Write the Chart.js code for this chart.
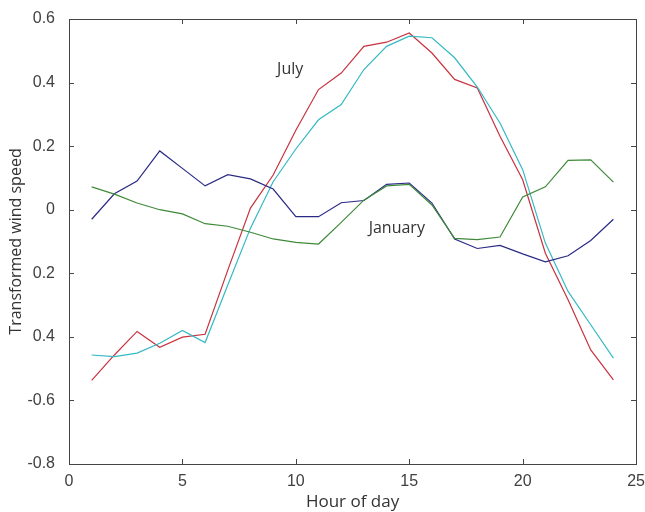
<!DOCTYPE html>
<html>
<head>
<meta charset="utf-8">
<script src="https://cdn.jsdelivr.net/npm/chart.js@4/dist/chart.umd.min.js"></script>
<style>
  html, body { margin: 0; padding: 0; background: #fff; }
  #wrap { width: 645px; height: 512px; }
</style>
</head>
<body>
<div id="wrap"><canvas id="MyChart" width="645" height="512"></canvas></div>
<script>
'use strict';

// 時刻 (1〜24時)
const hours = [1,2,3,4,5,6,7,8,9,10,11,12,13,14,15,16,17,18,19,20,21,22,23,24];

// January 2本
const janBlue  = [-0.03,0.05,0.09,0.185,0.13,0.075,0.11,0.097,0.065,-0.022,-0.022,0.022,0.029,0.08,0.084,0.021,-0.092,-0.122,-0.112,-0.139,-0.164,-0.145,-0.097,-0.03];
const janGreen = [0.072,0.049,0.021,0.0,-0.013,-0.044,-0.052,-0.071,-0.092,-0.103,-0.108,-0.04,0.03,0.075,0.08,0.015,-0.09,-0.094,-0.086,0.04,0.072,0.155,0.157,0.087];

// July 2本
const julRed   = [-0.537,-0.457,-0.383,-0.433,-0.401,-0.392,-0.19,0.005,0.109,0.25,0.378,0.43,0.514,0.527,0.556,0.493,0.41,0.383,0.231,0.094,-0.137,-0.283,-0.441,-0.535];
const julCyan  = [-0.457,-0.462,-0.451,-0.42,-0.38,-0.418,-0.237,-0.058,0.088,0.191,0.283,0.331,0.441,0.514,0.546,0.541,0.478,0.386,0.273,0.126,-0.105,-0.257,-0.362,-0.467];

// 目盛りラベル (元画像のとおり、負の0.2と0.4にマイナスが無い)
const xTickLabels = ['0','5','10','15','20','25'];
const yTickValues = [0.6,0.4,0.2,0,-0.2,-0.4,-0.6,-0.8];
const yTickLabels = ['0.6','0.4','0.2','0','0.2','0.4','-0.6','-0.8'];

// グラフ内の文字
const notes = [
  { text: 'July',    x: 9.75,  y: 0.44 },
  { text: 'January', x: 14.45, y: -0.06 }
];

const toPoints = (ys) => hours.map((h, i) => ({ x: h, y: ys[i] }));

const line = (data, color) => ({
  data: toPoints(data),
  borderColor: color,
  borderWidth: 1.2,
  pointRadius: 0,
  tension: 0,
  fill: false
});

// 枠と内向きの目盛り (fillRectで描く)
const boxPlugin = {
  id: 'box',
  afterDatasetsDraw(chart) {
    const { ctx, chartArea: a, scales } = chart;
    const L = Math.round(a.left), R = Math.round(a.right);
    const T = Math.round(a.top), B = Math.round(a.bottom);
    ctx.save();
    ctx.fillStyle = '#454545';
    ctx.fillRect(L, T, R - L + 1, 1);
    ctx.fillRect(L, B, R - L + 1, 1);
    ctx.fillRect(L, T, 1, B - T + 1);
    ctx.fillRect(R, T, 1, B - T + 1);
    const len = 5;
    scales.x.ticks.forEach(t => {
      const px = Math.round(scales.x.getPixelForValue(t.value));
      ctx.fillRect(px, B - len, 1, len);
      ctx.fillRect(px, T, 1, len);
    });
    scales.y.ticks.forEach(t => {
      const py = Math.round(scales.y.getPixelForValue(t.value));
      ctx.fillRect(L, py, len, 1);
      ctx.fillRect(R - len, py, len, 1);
    });

    ctx.fillStyle = '#333';
    ctx.font = '16px "Open Sans"';
    ctx.textAlign = 'center';
    ctx.textBaseline = 'middle';
    notes.forEach(n => {
      ctx.fillText(n.text, scales.x.getPixelForValue(n.x), scales.y.getPixelForValue(n.y));
    });
    ctx.restore();
  }
};

new Chart(document.getElementById('MyChart'), {
  type: 'line',
  data: {
    datasets: [
      line(janGreen, '#3f8a3a'),
      line(janBlue,  '#2a2a86'),
      line(julCyan,  '#35b9c4'),
      line(julRed,   '#c8323f')
    ]
  },
  options: {
    responsive: false,
    animation: false,
    layout: { padding: { top: 19, right: 8, left: 0, bottom: 0 } },
    plugins: { legend: { display: false }, tooltip: { enabled: false } },
    scales: {
      x: {
        type: 'linear',
        min: 0, max: 25,
        ticks: {
          stepSize: 5,
          padding: 0,
          color: '#404040',
          font: { family: 'Liberation Sans', size: 16 },
          callback: (v) => xTickLabels[v / 5]
        },
        grid: { display: false },
        border: { display: false },
        title: {
          display: true,
          text: 'Hour of day',
          color: '#333',
          font: { family: 'Open Sans', size: 17 },
          padding: { top: 2, bottom: 0 }
        },
        afterFit: (s) => { s.height = 48; }
      },
      y: {
        min: -0.8, max: 0.6,
        afterBuildTicks: (s) => { s.ticks = yTickValues.map(v => ({ value: v })); },
        ticks: {
          padding: 6,
          color: '#404040',
          font: { family: 'Liberation Sans', size: 16 },
          callback: (v) => {
            const i = yTickValues.findIndex(t => Math.abs(t - v) < 1e-6);
            return i >= 0 ? yTickLabels[i] : '';
          }
        },
        grid: { display: false },
        border: { display: false },
        title: {
          display: true,
          text: 'Transformed wind speed',
          color: '#333',
          font: { family: 'Open Sans', size: 16 },
          padding: { top: 7, bottom: 0 }
        },
        afterFit: (s) => { s.width = 69; }
      }
    }
  },
  plugins: [boxPlugin]
});
</script>
</body>
</html>
